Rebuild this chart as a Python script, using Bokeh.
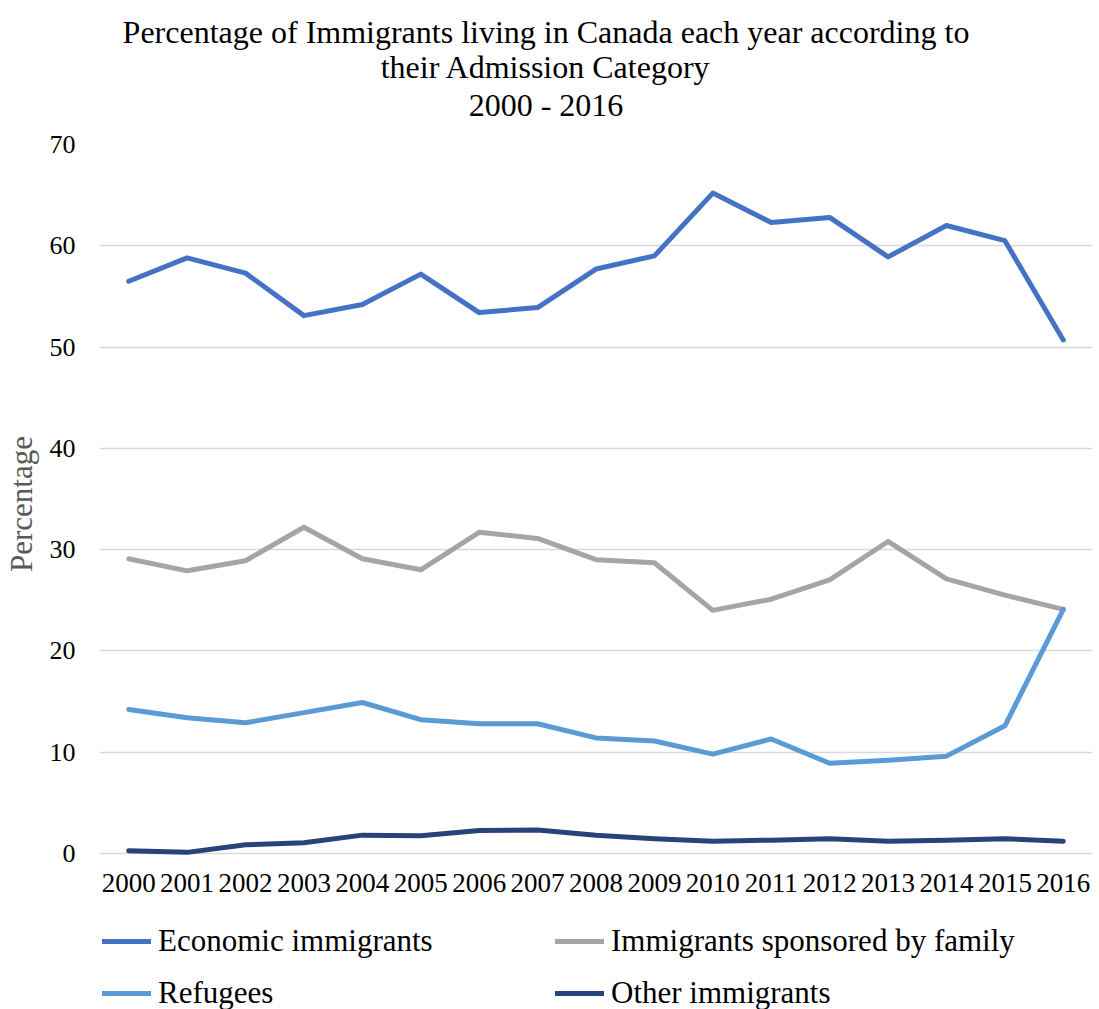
from bokeh.plotting import figure
from bokeh.layouts import column
from bokeh.models import Range1d, FixedTicker, Legend, LegendItem, Label
from bokeh.embed import file_html
from bokeh.resources import INLINE

# Share of immigrants by admission category, 2000-2016 (%)
years = [str(y) for y in range(2000, 2017)]
economic = [56.5, 58.8, 57.3, 53.1, 54.2, 57.2, 53.4, 53.9, 57.7, 59.0, 65.2, 62.3, 62.8, 58.9, 62.0, 60.5, 50.7]
family = [29.1, 27.9, 28.9, 32.2, 29.1, 28.0, 31.7, 31.1, 29.0, 28.7, 24.0, 25.1, 27.0, 30.8, 27.1, 25.5, 24.1]
refugees = [14.2, 13.4, 12.9, 13.9, 14.9, 13.2, 12.8, 12.8, 11.4, 11.1, 9.8, 11.3, 8.9, 9.2, 9.6, 12.6, 24.1]
other = [0.25, 0.1, 0.85, 1.05, 1.8, 1.75, 2.25, 2.3, 1.8, 1.45, 1.2, 1.3, 1.45, 1.2, 1.3, 1.45, 1.2]

series_names = ["Economic immigrants", "Immigrants sponsored by family", "Refugees", "Other immigrants"]
series_values = [economic, family, refugees, other]
series_colors = ["#4472C4", "#A5A5A5", "#5B9BD5", "#264478"]
y_ticks = [0, 10, 20, 30, 40, 50, 60, 70]
title_lines = ["Percentage of Immigrants living in Canada each year according to",
               "their Admission Category",
               "2000 - 2016"]

SERIF = "Liberation Serif"
W = 1099
FRAME_L, FRAME_R = 99, 1092   # plot frame edges (shared by all stacked figures)


def bare(height, x_range, y_range):
    f = figure(width=W, height=height, title=None,
               x_range=x_range, y_range=y_range,
               x_axis_location=None, y_axis_location=None,
               output_backend="svg", toolbar_location=None,
               min_border_left=FRAME_L, min_border_right=W - FRAME_R,
               min_border_top=0, min_border_bottom=0)
    f.grid.visible = False
    f.outline_line_color = None
    f.background_fill_color = "white"
    f.border_fill_color = "white"
    return f


# ---- heading (x in page pixels) --------------------------------------------
TITLE_H = 130
head = bare(TITLE_H, Range1d(FRAME_L, FRAME_R), Range1d(0, TITLE_H))
for line, baseline in zip(title_lines, [31.7, 66.7, 104.0]):
    head.add_layout(Label(x=545.5, y=TITLE_H - baseline, text=line,
                          text_align="center", text_baseline="alphabetic",
                          text_font=SERIF, text_font_size="32px",
                          text_color="#000000"))

# ---- main chart -------------------------------------------------------------
p = figure(
    width=W, height=779, title=None,
    x_range=years, y_range=Range1d(-1.0, 70),
    output_backend="svg", toolbar_location=None,
    min_border_left=FRAME_L, min_border_right=W - FRAME_R,
    min_border_top=14, min_border_bottom=46,
)
p.x_range.range_padding = 0
p.outline_line_color = None
p.background_fill_color = "white"
p.border_fill_color = "white"

p.xgrid.grid_line_color = None
p.ygrid.grid_line_color = "#d9d9d9"
p.ygrid.grid_line_width = 1.3
p.yaxis.ticker = FixedTicker(ticks=y_ticks)

for ax in (p.xaxis, p.yaxis):
    ax.axis_line_color = None
    ax.major_tick_line_color = None
    ax.minor_tick_line_color = None
    ax.major_tick_out = 0
    ax.major_tick_in = 0
    ax.major_label_text_font = SERIF
    ax.major_label_text_color = "#000000"

p.xaxis.major_label_text_font_size = "27px"
p.yaxis.major_label_text_font_size = "26px"
p.xaxis.major_label_standoff = 10
p.yaxis.major_label_standoff = 24
p.yaxis.axis_label = "Percentage"
p.yaxis.axis_label_text_font = SERIF
p.yaxis.axis_label_text_font_size = "31px"
p.yaxis.axis_label_text_font_style = "normal"
p.yaxis.axis_label_text_color = "#595959"
p.yaxis.axis_label_standoff = 8

for vals, color in zip(series_values, series_colors):
    p.line(years, vals, line_color=color, line_width=5,
           line_cap="round", line_join="round")

# ---- legend strip under the chart -------------------------------------------
# the series are repeated here (above the visible range) only so that the
# legend can show each line's swatch
lg = bare(100, years, Range1d(1000, 1001))

items = []
for name, vals, color in zip(series_names, series_values, series_colors):
    r = lg.line(years, vals, line_color=color, line_width=5,
                line_cap="round", line_join="round")
    items.append(LegendItem(label=name, renderers=[r]))

legend = Legend(
    items=items, orientation="horizontal", ncols=2,
    location=(3, -2),
    label_text_font=SERIF, label_text_font_size="31px", label_text_color="#000000",
    glyph_width=49, glyph_height=34, label_height=34, label_width=381,
    label_standoff=7, spacing=16, padding=0, margin=0,
    border_line_color=None, background_fill_alpha=0,
)
lg.add_layout(legend, "center")

layout = column(head, p, lg, spacing=0)
open("out.html", "w").write(file_html(layout, INLINE))
